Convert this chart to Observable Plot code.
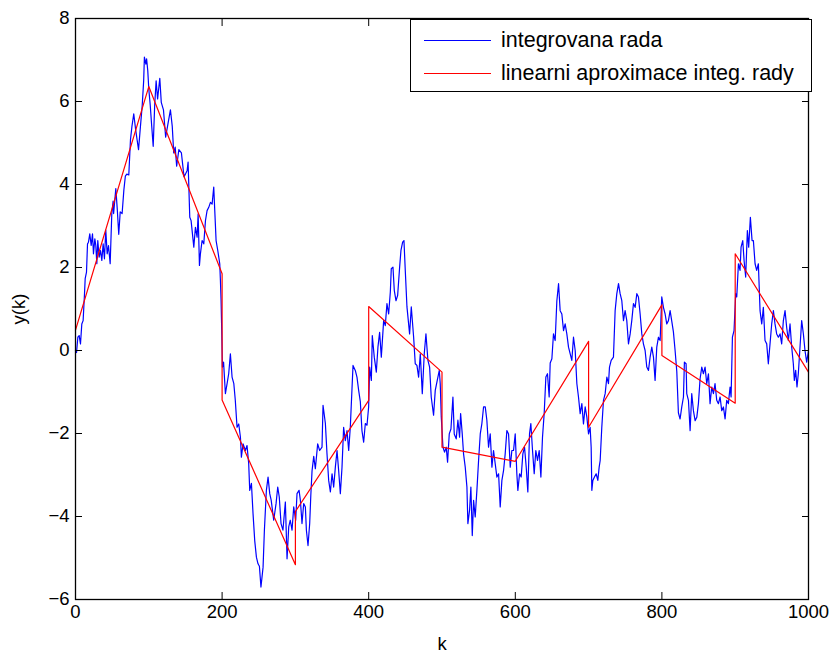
<!DOCTYPE html>
<html>
<head>
<meta charset="utf-8">
<script src="https://cdn.jsdelivr.net/npm/d3@7"></script>
<script src="https://cdn.jsdelivr.net/npm/@observablehq/plot@0.6"></script>
<style>
  html, body { margin: 0; padding: 0; background: #fff; }
  #wrap { position: relative; width: 836px; height: 653px; font-family: "Liberation Sans", Arial, Helvetica, sans-serif; }
  #legend { position: absolute; left: 410px; top: 19px; width: 402px; height: 73px; border: 1px solid #000; background: #fff; box-sizing: border-box; }
  #legend .row { position: absolute; left: 0; height: 26px; display: flex; align-items: center; }
  #legend .sw { display: inline-block; width: 67px; height: 0; border-top: 1.2px solid; margin-left: 13px; margin-right: 10px; }
  #legend .lab { font-size: 21.5px; color: #000; white-space: nowrap; }
</style>
</head>
<body>
<div id="wrap"></div>
<script>
// x tick values and y tick values
const xTicks = [0, 200, 400, 600, 800, 1000];
const yTicks = [-6, -4, -2, 0, 2, 4, 6, 8];
const seriesNames = ["integrovana rada", "linearni aproximace integ. rady"];
const seriesColors = ["#0000ff", "#ff0000"];

// integrated series
const blueK = [0,1.4,3.2,5,6.8,8.6,10.4,12.3,13.2,15,16.4,17.7,19.5,21.4,23.2,24.5,26.4,27.7,29.1,30.4,32.3,34.1,35.9,37.7,39.5,41.3,43.2,45,47.3,49.5,51.3,52,55,57,59,61,63.6,66,68,70,72.7,75,77,79.5,82,84,86,88.6,91,93,94,96,97,98.6,100,102,104,106,108,110,112,115,117,120,123,126,129.5,132,134,136,138,141,144.5,148,150,152.3,153.6,154.5,155.9,157.7,159.1,161.4,163.6,165.9,167.3,169.1,170.4,172.7,175,177.3,179.5,181.8,184.1,186.4,188.6,190,191.8,194.1,196.8,197.7,198.6,199.5,200.4,202,204.5,206.8,209,211.3,213.6,216,218,220.4,222.7,225,226.3,228.6,231.8,234,236.3,237.7,240,242.2,244.5,246.8,249,250.9,253,255.9,257.7,260.4,262.7,265,267,270.4,273.6,275.9,278,280.4,283,286.3,288.6,290.9,293,295.4,297.7,300.4,302.2,305,306.8,309,311.3,313.6,315,317.2,319.5,321,322.7,325,327.2,330.4,333.1,336.3,337.7,340.9,343.1,345.4,347.7,350,352.2,354.5,356.8,359,361.3,363.6,365.8,368.1,370.4,372.7,374.9,378.6,381.7,384,386.3,388.6,390.8,393.1,395.4,397.7,399.9,401.3,403.6,404.9,407.6,410.4,412.6,414.9,417.2,420.4,422.6,424.9,427.2,429.5,430.8,433.1,434.9,437.2,439.5,442.2,444,446.3,448.1,449.9,452.2,455.8,458.1,461.3,463.5,465.8,468.1,470.4,473.1,475.8,478.1,480.8,483.1,485.3,488.5,490.8,494,496.3,497.6,499,501.3,503.5,505.8,507.6,509.9,512.2,514.9,516.7,519.4,521.7,524,525.4,527.6,529.4,531.7,534,535.3,537.6,539.4,541.3,543.1,545.3,547.6,549.9,552.2,554.4,556.7,559,561.2,563.5,565.8,568.1,570.3,572.6,574.9,577.2,579.4,581.7,584,586.2,588.5,590.8,593.1,595.3,597.6,599.9,602.1,603.5,605.8,608,610.3,612.6,614.9,617.1,619.4,621.2,623.5,625.8,628,630.3,632.6,634.9,637.1,639.4,641.7,643.9,646.2,647.6,649.9,652.1,654.4,656.7,659,661.2,663.5,665.8,668,670.3,672.6,674.9,677.1,679.4,681.7,684,686.2,688.5,690.8,693,695.3,697.6,699.9,702.1,703.5,704.4,705.8,708,710.3,712.6,714.4,715.8,718,720.3,722.6,724.9,727.1,728.5,730.8,733.9,736.2,738.5,740.8,743,745.3,747.6,749.8,752.1,754.4,756.7,758.9,761.2,763.5,765.8,768,770.3,772.6,774.8,777.1,779.4,781.7,783.9,786.2,788.5,790.7,793,795.3,797.6,799.8,802.1,804.4,806.6,808.9,811.2,813.5,815.7,818,820.3,822.5,824.8,827.1,829.4,830.7,833,833.9,836.2,838.5,840.7,843,845.3,847.6,849.8,852.1,854.4,856.6,858.9,861.2,863.5,865.7,868,870.3,872.5,874.8,877.1,879.4,881.6,883.9,886.2,888.4,890.7,893,894.4,896.2,898.4,900.7,902.1,904.4,906.6,908,910.3,912.1,914.3,916.6,918.4,920.7,923,924.8,927.1,929.3,931.6,933.9,936.2,938.4,940.7,943,945.2,947.5,949.8,952.1,954.3,956.6,958.9,961.2,963.4,965.7,968,970.2,972.5,974.8,977.1,979.3,980.7,982.5,984.3,986.1,988.4,990.7,993,995.2,997.5,1000];
const blueY = [0,-0.05,0.32,0.36,0.16,0.64,0.72,1.37,1.73,1.89,2.57,2.61,2.81,2.53,2.81,2.33,2.69,2.53,2.09,2.65,2.25,2.41,2.17,2.57,2.21,2.9,2.33,2.53,2.09,3.29,3.6,3.3,3.9,3.4,2.8,3.34,3.3,3.87,4.2,4.25,4.23,5.08,5.4,5.7,5.33,5.08,4.84,5.4,5.9,6.5,7.07,6.9,7.03,6.74,6.3,5.9,5.4,4.92,5.9,6.5,6.06,6.56,5.98,5.8,5.14,5.45,5.8,5.4,4.76,4.9,4.44,4.84,4.76,4.19,4.25,4.34,4.54,4.02,3.21,3.13,2.89,2.49,2.97,2.73,3.29,2.05,2.33,2.65,2.57,3.13,3.37,3.45,3.57,3.53,3.94,3.37,2.65,2.41,2.09,1.69,1.2,0.48,-0.4,-0.28,-1.04,-0.8,-0.56,-0.08,-0.64,-0.8,-1.2,-1.85,-1.77,-2.09,-2.57,-2.25,-2.41,-2.29,-2.73,-3.37,-3.2,-3.93,-4.58,-4.98,-5.14,-5.2,-5.7,-5.22,-4.33,-3.37,-3.05,-3.45,-3.61,-4.09,-3.69,-3.29,-3.53,-4.17,-4.33,-3.65,-5.02,-4.25,-4.09,-4.33,-3.77,-4.09,-3.45,-3.37,-3.61,-4.17,-3.69,-3.77,-4.33,-4.7,-4.17,-3.5,-2.9,-2.55,-2.85,-2.25,-2.41,-2.33,-1.32,-1.76,-2.49,-3.13,-3.41,-2.97,-3.29,-2.81,-2.41,-2.89,-3.45,-2.81,-1.85,-2.17,-1.93,-2.41,-1.85,-0.36,-0.48,-0.64,-0.96,-1.24,-1.93,-2.21,-1.76,-1.8,-1.36,-0.4,-0.72,0.36,-0.16,-0.52,0.08,0.44,-0.16,0.72,0.6,1.13,0.88,1.41,1.97,2.01,1.45,1.2,1.33,2.01,2.41,2.61,2.65,1.93,1.05,0.4,1.05,0.32,-0.32,-0.36,-0.64,-0.08,-1.04,-0.08,0.4,-0.24,-0.4,-1.12,-1.56,-0.96,-0.68,-0.48,-0.8,-1.6,-2.33,-2.45,-2.33,-2.69,-2.01,-1.89,-1.12,-2.01,-2.13,-1.68,-2.09,-1.52,-2.01,-2.49,-2.81,-3.29,-4.17,-3.85,-3.29,-4.46,-3.61,-4.01,-3.37,-2.65,-2.01,-1.76,-1.36,-1.36,-1.68,-2.33,-2.01,-2.81,-2.41,-2.73,-3.05,-2.97,-3.77,-3.13,-2.89,-2.49,-1.93,-2.01,-2.81,-2.41,-2.41,-2.01,-2.97,-3.37,-2.97,-3.05,-2.49,-2.33,-2.81,-3.41,-2.01,-1.76,-2.41,-2.97,-2.41,-2.65,-2.41,-3.05,-2.09,-1.52,-0.64,-0.56,-1.12,-0.3,-0.2,0.4,0.24,1.2,1.61,0.96,0.88,0.48,0.64,0.4,0.08,-0.08,-0.24,0.32,0,-0.8,-1.12,-1.52,-1.28,-1.77,-1.36,-1.6,-2.01,-1.85,-2.33,-3.37,-3.13,-3.05,-2.97,-3.13,-2.81,-2.65,-1.85,-1.2,-1.04,-0.64,-0.8,-0.4,-0.24,-0.16,0.96,1.37,1.61,1.37,1.2,0.72,0.96,0.72,0.16,0.4,0.72,1.13,1.04,1.37,1.29,0.88,0.4,0.16,0,-0.4,-0.48,-0.16,0.08,-0.16,-0.72,0.08,0.32,0.24,1.29,1.04,0.88,0.64,0.72,0.96,0.7,0.45,0,-0.5,-1.5,-1.65,-1.36,-1.12,-0.28,-0.32,-1.04,-1.2,-1.93,-1.04,-1.45,-1.69,-1.61,-1.28,-0.68,-0.4,-0.56,-0.4,-0.8,-0.56,-1.28,-0.88,-1.04,-0.8,-1.2,-1.28,-1.12,-1.45,-1.36,-1.65,-1.2,-1.28,-0.88,-1.12,0.32,0.48,1.37,1.29,2.09,1.93,2.49,2.65,2.17,1.77,2.89,2.49,3.21,2.65,2.65,2.09,1.93,2.09,0.96,0.64,1.04,0.24,0.16,-0.32,0.16,0.64,0.96,0.64,0.4,0.32,0.4,0.16,0.72,0.96,0.56,0.24,0.64,0.08,-0.32,-0.72,-0.48,-0.88,-0.56,0.08,0.72,0.4,0,-0.28,0];

// piecewise linear approximation (jumps at window edges)
const redK = [0, 100, 200, 200, 300, 300, 400, 400, 500, 500, 600, 700, 700, 800, 800, 900, 900, 1000];
const redY = [0.49, 6.36, 1.85, -1.19, -5.16, -3.88, -1.2, 1.06, -0.52, -2.33, -2.67, 0.22, -1.85, 1.1, -0.12, -1.27, 2.33, -0.52];

const blue = blueK.map((k, i) => ({k, y: blueY[i]}));
const red = redK.map((k, i) => ({k, y: redY[i]}));

const chart = Plot.plot({
  width: 836,
  height: 653,
  marginLeft: 75,
  marginRight: 28,
  marginTop: 18,
  marginBottom: 54,
  x: {domain: [0, 1000]},
  y: {domain: [-6, 8]},
  style: {fontFamily: "'Liberation Sans', Arial, Helvetica, sans-serif", fontSize: "18.5px", background: "#fff", color: "#000"},
  marks: [
    Plot.line(blue, {x: "k", y: "y", stroke: seriesColors[0], strokeWidth: 1.2}),
    Plot.line(red, {x: "k", y: "y", stroke: seriesColors[1], strokeWidth: 1.2}),
    Plot.frame({stroke: "#000", strokeWidth: 1.3}),
    Plot.axisX(xTicks, {anchor: "bottom", tickSize: -7, tickPadding: 12, tickFormat: d => String(d), label: "k", labelAnchor: "center", labelOffset: 50, labelArrow: "none"}),
    Plot.axisX(xTicks, {anchor: "top", tickSize: -7, tickFormat: () => "", label: null}),
    Plot.axisY(yTicks, {anchor: "left", tickSize: -7, tickPadding: 13, tickFormat: d => d < 0 ? "\u2212" + Math.abs(d) : String(d), label: "y(k)", labelAnchor: "center", labelOffset: 64, labelArrow: "none"}),
    Plot.axisY(yTicks, {anchor: "right", tickSize: -7, tickFormat: () => "", label: null})
  ]
});

const wrap = document.getElementById("wrap");
wrap.appendChild(chart);

// legend
const legend = document.createElement("div");
legend.id = "legend";
seriesNames.forEach((name, i) => {
  const row = document.createElement("div");
  row.className = "row";
  row.style.top = (7 + i * 33) + "px";
  const sw = document.createElement("span");
  sw.className = "sw";
  sw.style.borderTopColor = seriesColors[i];
  const lab = document.createElement("span");
  lab.className = "lab";
  lab.textContent = name;
  row.appendChild(sw);
  row.appendChild(lab);
  legend.appendChild(row);
});
wrap.appendChild(legend);
</script>
</body>
</html>
